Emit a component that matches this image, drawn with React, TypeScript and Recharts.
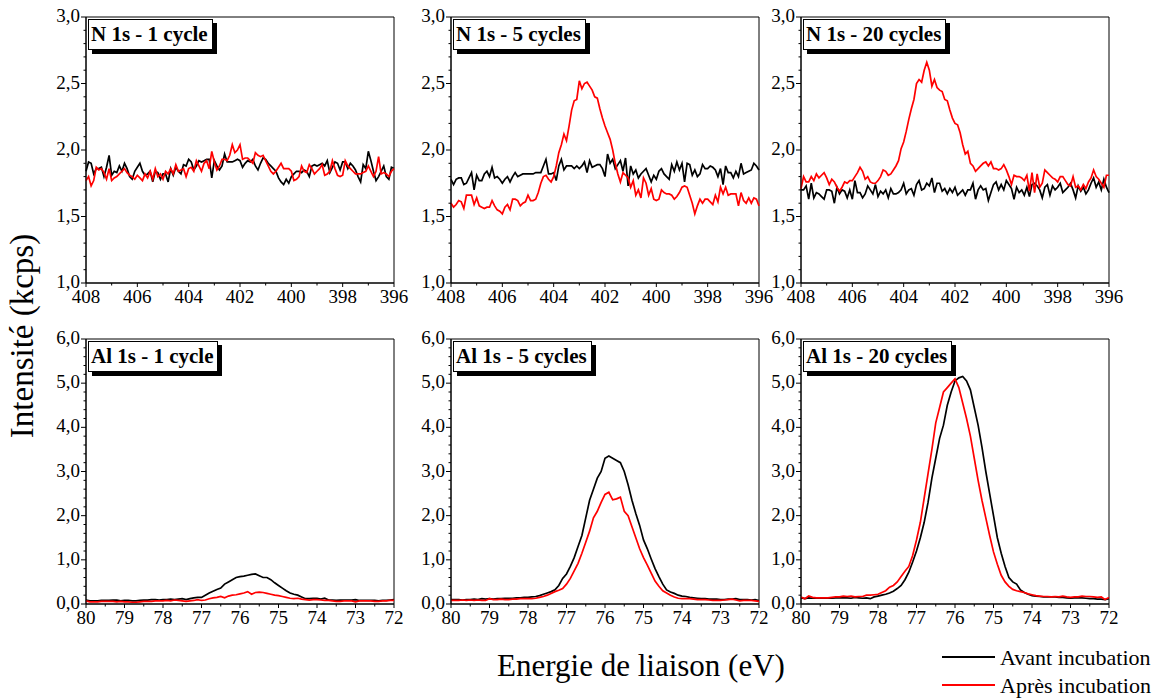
import React from 'react';
import { LineChart, Line, XAxis, YAxis, ReferenceArea } from 'recharts';

// ---------- categories (binding energy grids, eV) ----------
const nEnergy: number[] = Array.from({ length: 121 }, (_, i) => +(408 - i * 0.1).toFixed(1));
const alEnergy: number[] = Array.from({ length: 81 }, (_, i) => +(80 - i * 0.1).toFixed(1));

// ---------- tick labels ----------
const nXMajor = [408, 406, 404, 402, 400, 398, 396];
const nXMinor = [407, 405, 403, 401, 399, 397];
const nYMajor = [1, 1.5, 2, 2.5, 3];
const nYMinor = [1.1, 1.2, 1.3, 1.4, 1.6, 1.7, 1.8, 1.9, 2.1, 2.2, 2.3, 2.4, 2.6, 2.7, 2.8, 2.9];
const alXMajor = [80, 79, 78, 77, 76, 75, 74, 73, 72];
const alXMinor = [79.5, 78.5, 77.5, 76.5, 75.5, 74.5, 73.5, 72.5];
const alYMajor = [0, 1, 2, 3, 4, 5, 6];
const alYMinor = [0.2, 0.4, 0.6, 0.8, 1.2, 1.4, 1.6, 1.8, 2.2, 2.4, 2.6, 2.8, 3.2, 3.4, 3.6, 3.8, 4.2, 4.4, 4.6, 4.8, 5.2, 5.4, 5.6, 5.8];

const titles = ['N 1s - 1 cycle', 'N 1s - 5 cycles', 'N 1s - 20 cycles', 'Al 1s - 1 cycle', 'Al 1s - 5 cycles', 'Al 1s - 20 cycles'];
const legendLabels = ['Avant incubation', 'Après incubation'];

// ---------- series (kcps) ----------
const n1Avant = [1.84,1.91,1.90,1.82,1.86,1.86,1.87,1.80,1.87,1.96,
1.81,1.84,1.83,1.88,1.84,1.90,1.86,1.80,1.78,1.84,
1.87,1.90,1.84,1.81,1.82,1.84,1.76,1.84,1.83,1.78,
1.82,1.82,1.76,1.86,1.81,1.87,1.84,1.82,1.89,1.88,
1.93,1.91,1.85,1.88,1.92,1.91,1.92,1.93,1.93,1.79,
1.92,1.88,1.85,1.88,1.97,1.91,1.91,1.91,1.92,1.93,
1.92,1.87,1.90,1.92,1.91,1.93,1.88,1.85,1.90,1.94,
1.93,1.90,1.88,1.86,1.84,1.79,1.76,1.74,1.78,1.75,
1.80,1.82,1.84,1.84,1.83,1.85,1.84,1.80,1.88,1.89,
1.88,1.89,1.90,1.88,1.92,1.83,1.87,1.91,1.90,1.85,
1.91,1.91,1.86,1.90,1.88,1.85,1.80,1.76,1.89,1.86,
1.99,1.92,1.84,1.77,1.80,1.84,1.88,1.80,1.78,1.87,1.86];
const n1Apres = [1.77,1.80,1.73,1.77,1.87,1.85,1.86,1.83,1.78,1.86,
1.77,1.79,1.80,1.82,1.84,1.86,1.83,1.81,1.80,1.78,
1.81,1.79,1.77,1.82,1.79,1.84,1.78,1.86,1.80,1.82,
1.78,1.84,1.82,1.86,1.82,1.89,1.84,1.85,1.86,1.80,
1.86,1.87,1.84,1.92,1.88,1.84,1.90,1.92,1.86,1.99,
1.91,1.85,1.88,1.93,1.93,1.92,1.96,2.04,1.98,2.00,
2.04,1.93,1.94,1.94,1.92,1.90,1.98,1.96,1.95,1.96,
1.92,1.88,1.84,1.82,1.84,1.87,1.90,1.86,1.86,1.86,
1.84,1.77,1.78,1.80,1.88,1.84,1.83,1.89,1.86,1.82,
1.84,1.86,1.89,1.81,1.82,1.84,1.92,1.86,1.81,1.80,
1.81,1.92,1.88,1.86,1.84,1.82,1.82,1.82,1.83,1.84,
1.88,1.84,1.80,1.84,1.95,1.82,1.83,1.82,1.80,1.84,1.86];
const n5Avant = [1.78,1.74,1.78,1.79,1.79,1.74,1.75,1.79,1.83,1.70,
1.81,1.77,1.77,1.82,1.84,1.80,1.87,1.79,1.80,1.78,
1.75,1.78,1.80,1.76,1.80,1.83,1.80,1.81,1.82,1.82,
1.82,1.82,1.82,1.83,1.83,1.83,1.88,1.93,1.82,1.82,
1.83,1.77,1.88,1.93,1.85,1.88,1.88,1.88,1.86,1.88,
1.86,1.88,1.91,1.83,1.92,1.87,1.88,1.89,1.89,1.86,
1.80,1.97,1.90,1.93,1.86,1.89,1.92,1.84,1.94,1.73,
1.88,1.82,1.85,1.79,1.82,1.84,1.86,1.81,1.76,1.81,
1.78,1.84,1.86,1.82,1.80,1.78,1.89,1.84,1.91,1.85,
1.90,1.76,1.90,1.89,1.81,1.85,1.80,1.82,1.89,1.86,
1.86,1.88,1.87,1.85,1.80,1.86,1.74,1.88,1.83,1.83,
1.79,1.84,1.80,1.90,1.82,1.83,1.84,1.85,1.90,1.88,1.85];
const n5Apres = [1.60,1.57,1.59,1.62,1.61,1.56,1.66,1.66,1.66,1.59,
1.64,1.58,1.57,1.56,1.57,1.57,1.62,1.58,1.55,1.54,
1.52,1.57,1.59,1.55,1.63,1.63,1.62,1.58,1.60,1.61,
1.66,1.62,1.62,1.63,1.68,1.75,1.80,1.81,1.78,1.76,
1.80,1.88,1.98,2.04,2.12,2.07,2.18,2.30,2.37,2.38,
2.52,2.46,2.50,2.51,2.48,2.45,2.40,2.39,2.31,2.24,
2.18,2.13,2.08,2.00,1.90,1.82,1.76,1.83,1.81,1.79,
1.72,1.77,1.66,1.70,1.64,1.79,1.75,1.66,1.71,1.63,
1.62,1.63,1.70,1.68,1.67,1.67,1.66,1.63,1.65,1.68,
1.72,1.73,1.72,1.66,1.60,1.52,1.58,1.63,1.60,1.63,
1.63,1.61,1.59,1.66,1.61,1.72,1.67,1.72,1.66,1.67,
1.67,1.67,1.58,1.68,1.62,1.60,1.64,1.60,1.64,1.63,1.58];
const n20Avant = [1.70,1.70,1.73,1.63,1.75,1.64,1.68,1.67,1.65,1.63,
1.70,1.70,1.69,1.60,1.72,1.67,1.70,1.69,1.64,1.70,
1.63,1.77,1.68,1.68,1.64,1.67,1.73,1.70,1.67,1.74,
1.65,1.69,1.67,1.70,1.64,1.71,1.67,1.67,1.68,1.70,
1.75,1.67,1.70,1.71,1.66,1.74,1.77,1.70,1.71,1.75,
1.73,1.79,1.68,1.75,1.75,1.69,1.71,1.67,1.71,1.68,
1.72,1.66,1.68,1.70,1.66,1.70,1.70,1.75,1.63,1.70,
1.73,1.70,1.71,1.62,1.68,1.74,1.76,1.70,1.74,1.70,
1.77,1.74,1.71,1.63,1.72,1.68,1.70,1.66,1.72,1.65,
1.74,1.75,1.73,1.70,1.64,1.72,1.74,1.66,1.73,1.70,
1.72,1.75,1.68,1.70,1.72,1.75,1.70,1.64,1.73,1.69,
1.72,1.67,1.70,1.75,1.79,1.72,1.76,1.70,1.78,1.72,1.68];
const n20Apres = [1.71,1.80,1.76,1.76,1.80,1.77,1.82,1.79,1.81,1.83,
1.79,1.74,1.78,1.76,1.72,1.69,1.72,1.76,1.75,1.77,
1.77,1.80,1.83,1.87,1.84,1.78,1.80,1.76,1.75,1.75,
1.77,1.80,1.85,1.84,1.81,1.82,1.85,1.88,1.92,2.01,
2.06,2.14,2.23,2.31,2.38,2.50,2.53,2.51,2.60,2.66,
2.60,2.48,2.53,2.47,2.45,2.44,2.38,2.37,2.30,2.24,
2.20,2.19,2.13,2.04,1.97,1.99,1.90,1.88,1.84,1.86,
1.88,1.90,1.91,1.88,1.91,1.86,1.86,1.85,1.86,1.89,
1.85,1.80,1.74,1.81,1.80,1.80,1.79,1.77,1.81,1.69,
1.83,1.68,1.82,1.72,1.75,1.85,1.83,1.81,1.79,1.78,
1.76,1.80,1.80,1.77,1.74,1.73,1.80,1.72,1.73,1.70,
1.74,1.71,1.76,1.79,1.85,1.80,1.78,1.75,1.72,1.81,1.81];

const al1Avant = [0.09,0.07,0.07,0.07,0.08,0.08,0.08,0.09,0.09,0.07,
0.08,0.08,0.07,0.07,0.08,0.09,0.09,0.10,0.10,0.09,
0.10,0.10,0.11,0.10,0.11,0.12,0.10,0.12,0.14,0.15,
0.15,0.20,0.25,0.29,0.33,0.36,0.45,0.50,0.55,0.60,
0.62,0.63,0.65,0.67,0.68,0.64,0.60,0.60,0.55,0.48,
0.42,0.36,0.30,0.25,0.22,0.20,0.16,0.12,0.12,0.13,
0.13,0.11,0.13,0.09,0.09,0.08,0.09,0.09,0.09,0.09,
0.10,0.08,0.08,0.08,0.08,0.08,0.07,0.08,0.08,0.09,0.10];
const al1Apres = [0.07,0.05,0.05,0.05,0.06,0.06,0.06,0.06,0.05,0.06,
0.05,0.05,0.04,0.04,0.05,0.06,0.06,0.06,0.07,0.07,
0.07,0.08,0.07,0.09,0.08,0.07,0.06,0.07,0.08,0.10,
0.08,0.09,0.12,0.14,0.15,0.17,0.14,0.18,0.20,0.21,
0.23,0.25,0.28,0.22,0.26,0.27,0.26,0.24,0.22,0.20,
0.19,0.17,0.15,0.13,0.12,0.13,0.11,0.10,0.09,0.10,
0.10,0.09,0.08,0.08,0.07,0.06,0.06,0.07,0.07,0.07,
0.05,0.07,0.07,0.07,0.07,0.06,0.06,0.07,0.07,0.08,0.08];
const al5Avant = [0.10,0.10,0.10,0.09,0.10,0.10,0.11,0.10,0.12,0.11,
0.12,0.11,0.12,0.12,0.13,0.13,0.13,0.14,0.14,0.15,
0.15,0.16,0.17,0.19,0.22,0.25,0.28,0.32,0.42,0.58,
0.68,0.85,1.05,1.30,1.55,1.95,2.35,2.60,2.85,3.00,
3.30,3.35,3.30,3.25,3.20,3.00,2.70,2.35,2.05,1.78,
1.45,1.25,1.02,0.80,0.62,0.45,0.32,0.27,0.24,0.20,
0.18,0.17,0.15,0.14,0.13,0.12,0.12,0.11,0.11,0.11,
0.10,0.10,0.11,0.11,0.12,0.10,0.10,0.10,0.09,0.10,0.08];
const al5Apres = [0.08,0.08,0.08,0.09,0.08,0.09,0.08,0.09,0.08,0.08,
0.12,0.10,0.10,0.11,0.10,0.10,0.11,0.11,0.12,0.12,
0.12,0.12,0.13,0.15,0.17,0.20,0.24,0.28,0.31,0.35,
0.45,0.58,0.75,0.92,1.15,1.40,1.65,1.95,2.10,2.30,
2.48,2.53,2.36,2.38,2.42,2.10,2.00,1.75,1.50,1.25,
1.05,0.88,0.70,0.52,0.40,0.30,0.25,0.20,0.16,0.13,
0.12,0.12,0.12,0.11,0.10,0.10,0.10,0.09,0.08,0.08,
0.08,0.09,0.10,0.11,0.09,0.07,0.08,0.08,0.08,0.07,0.06];
const al20Avant = [0.14,0.12,0.14,0.13,0.13,0.13,0.13,0.13,0.13,0.14,
0.14,0.14,0.14,0.13,0.15,0.14,0.13,0.14,0.12,0.16,
0.18,0.20,0.22,0.25,0.29,0.35,0.42,0.55,0.72,0.95,
1.20,1.50,1.85,2.30,2.85,3.30,3.75,4.05,4.50,4.80,
5.05,5.12,5.15,5.05,4.85,4.45,4.05,3.55,3.00,2.50,
2.00,1.50,1.15,0.85,0.60,0.50,0.45,0.32,0.26,0.22,
0.19,0.18,0.17,0.16,0.16,0.16,0.16,0.15,0.15,0.14,
0.13,0.14,0.14,0.14,0.13,0.12,0.12,0.11,0.11,0.10,0.12];
const al20Apres = [0.16,0.12,0.18,0.15,0.14,0.14,0.14,0.14,0.15,0.16,
0.16,0.18,0.17,0.18,0.16,0.17,0.17,0.20,0.20,0.21,
0.22,0.26,0.30,0.38,0.42,0.50,0.62,0.74,0.85,1.10,
1.45,1.85,2.40,2.95,3.50,4.10,4.45,4.80,4.90,5.00,
5.10,4.90,4.55,4.20,3.80,3.30,2.80,2.35,1.95,1.55,
1.18,0.90,0.65,0.50,0.40,0.33,0.30,0.28,0.26,0.23,
0.21,0.19,0.18,0.17,0.17,0.16,0.17,0.16,0.18,0.16,
0.15,0.16,0.16,0.18,0.17,0.17,0.16,0.15,0.16,0.10,0.15];

// ---------- layout ----------
const FONT = 'Liberation Serif';
const PLOT_W = 308;
const Y_AXIS_W = 45;
const M_TOP = 16;
const M_RIGHT = 25;
const X_AXIS_H = 30;
const colLefts = [86, 451, 801];
const rowTops = [17, 339];
const rowHeights = [266, 265];

type PanelDef = {
  title: string;
  energy: number[];
  avant: number[];
  apres: number[];
  xDomain: [number, number];
  xMajor: number[];
  xMinor: number[];
  yDomain: [number, number];
  yMajor: number[];
  yMinor: number[];
  col: number;
  row: number;
};

const nAxes = { xDomain: [396, 408] as [number, number], xMajor: nXMajor, xMinor: nXMinor, yDomain: [1, 3] as [number, number], yMajor: nYMajor, yMinor: nYMinor };
const alAxes = { xDomain: [72, 80] as [number, number], xMajor: alXMajor, xMinor: alXMinor, yDomain: [0, 6] as [number, number], yMajor: alYMajor, yMinor: alYMinor };

const panels: PanelDef[] = [
  { title: titles[0], energy: nEnergy, avant: n1Avant, apres: n1Apres, ...nAxes, col: 0, row: 0 },
  { title: titles[1], energy: nEnergy, avant: n5Avant, apres: n5Apres, ...nAxes, col: 1, row: 0 },
  { title: titles[2], energy: nEnergy, avant: n20Avant, apres: n20Apres, ...nAxes, col: 2, row: 0 },
  { title: titles[3], energy: alEnergy, avant: al1Avant, apres: al1Apres, ...alAxes, col: 0, row: 1 },
  { title: titles[4], energy: alEnergy, avant: al5Avant, apres: al5Apres, ...alAxes, col: 1, row: 1 },
  { title: titles[5], energy: alEnergy, avant: al20Avant, apres: al20Apres, ...alAxes, col: 2, row: 1 },
];

const fmtComma = (v: number) => v.toFixed(1).replace('.', ',');
const isIn = (arr: number[], v: number) => arr.some((a) => Math.abs(a - v) < 1e-6);

function Panel({ p }: { p: PanelDef }) {
  const data = p.energy.map((e, i) => ({ e, avant: p.avant[i], apres: p.apres[i] }));
  const plotH = rowHeights[p.row];
  const W = Y_AXIS_W + PLOT_W + M_RIGHT;
  const H = M_TOP + plotH + X_AXIS_H;
  const left = colLefts[p.col] - Y_AXIS_W;
  const top = rowTops[p.row] - M_TOP;
  const xTicks = [...p.xMajor, ...p.xMinor].sort((a, b) => a - b);
  const yTicks = [...p.yMajor, ...p.yMinor].sort((a, b) => a - b);

  const XTick = (props: any) => {
    const { x, y, payload } = props;
    const major = isIn(p.xMajor, payload.value);
    return (
      <g>
        <line x1={x} x2={x} y1={y} y2={y + (major ? 4 : 2.5)} stroke="#000" strokeWidth={1} />
        {major && (
          <text x={x} y={y + 20} textAnchor="middle" fontFamily={FONT} fontSize={19} fill="#000">
            {String(payload.value)}
          </text>
        )}
      </g>
    );
  };
  const YTick = (props: any) => {
    const { x, y, payload } = props;
    const major = isIn(p.yMajor, payload.value);
    return (
      <g>
        <line x1={x - (major ? 5 : 2.5)} x2={x} y1={y} y2={y} stroke="#000" strokeWidth={1} />
        {major && (
          <text x={x - 6} y={y + 5} textAnchor="end" fontFamily={FONT} fontSize={19} fill="#000">
            {fmtComma(payload.value)}
          </text>
        )}
      </g>
    );
  };

  return (
    <div style={{ position: 'absolute', left, top, width: W, height: H }}>
      <LineChart width={W} height={H} data={data} margin={{ top: M_TOP, right: M_RIGHT, bottom: 0, left: 0 }}>
        <XAxis
          dataKey="e"
          type="number"
          domain={p.xDomain}
          reversed
          ticks={xTicks}
          interval={0}
          tickSize={0}
          tickMargin={0}
          tickLine={false}
          axisLine={{ stroke: '#000' }}
          tick={XTick}
          height={X_AXIS_H}
        />
        <YAxis
          type="number"
          domain={p.yDomain}
          ticks={yTicks}
          interval={0}
          tickSize={0}
          tickMargin={0}
          tickLine={false}
          axisLine={{ stroke: '#000' }}
          tick={YTick}
          width={Y_AXIS_W}
        />
        <ReferenceArea
          x1={p.xDomain[0]}
          x2={p.xDomain[1]}
          y1={p.yDomain[0]}
          y2={p.yDomain[1]}
          fill="none"
          fillOpacity={0}
          stroke="#000"
          strokeWidth={1}
        />
        <Line type="linear" dataKey="avant" stroke="#000000" strokeWidth={1.7} dot={false} isAnimationActive={false} />
        <Line type="linear" dataKey="apres" stroke="#ff0000" strokeWidth={1.7} dot={false} isAnimationActive={false} />
      </LineChart>
      <div
        style={{
          position: 'absolute',
          left: Y_AXIS_W + 2,
          top: M_TOP + 2,
          border: '1px solid #000',
          background: '#fff',
          boxShadow: '4px 4px 0 #000',
          fontFamily: FONT,
          fontWeight: 'bold',
          fontSize: 21,
          lineHeight: '27px',
          padding: '1px 4px 1px 2px',
          whiteSpace: 'nowrap',
          color: '#000',
        }}
      >
        {p.title}
      </div>
    </div>
  );
}

export default function App() {
  return (
    <div style={{ position: 'absolute', left: 0, top: 0, width: 1159, height: 698, background: '#fff', overflow: 'hidden', fontFamily: FONT }}>
      {panels.map((p, i) => (
        <Panel key={i} p={p} />
      ))}
      <svg width={1159} height={698} style={{ position: 'absolute', left: 0, top: 0, pointerEvents: 'none' }}>
        <text transform="translate(33,336) rotate(-90)" textAnchor="middle" fontFamily={FONT} fontSize={33} fill="#000">
          Intensité (kcps)
        </text>
        <text x={641} y={676} textAnchor="middle" fontFamily={FONT} fontSize={31} fill="#000">
          Energie de liaison (eV)
        </text>
        <line x1={942} x2={995} y1={657} y2={657} stroke="#000" strokeWidth={2} />
        <text x={1000} y={665} fontFamily={FONT} fontSize={22} fill="#000">{legendLabels[0]}</text>
        <line x1={942} x2={995} y1={685} y2={685} stroke="#ff0000" strokeWidth={2} />
        <text x={1000} y={693} fontFamily={FONT} fontSize={22} fill="#000">{legendLabels[1]}</text>
      </svg>
    </div>
  );
}
